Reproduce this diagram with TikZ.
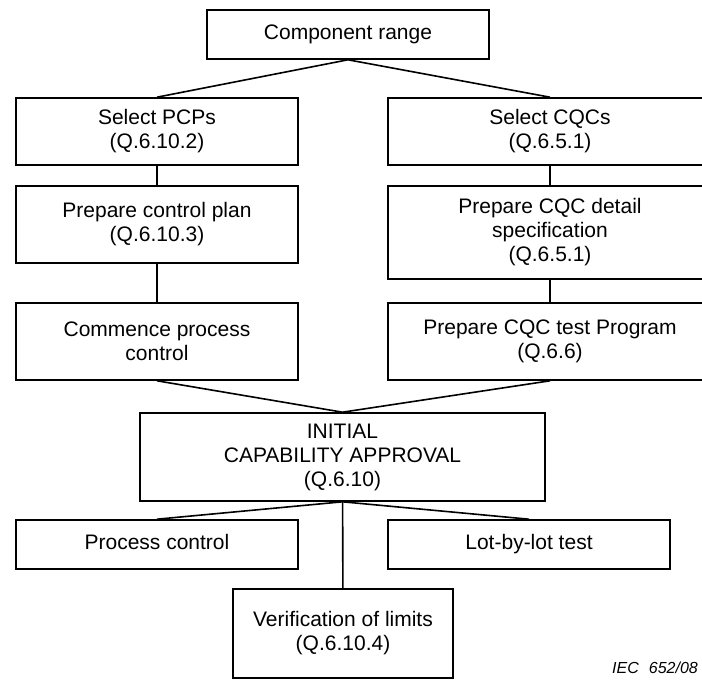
\documentclass[tikz,border=0pt]{standalone}
\usepackage{fontspec}
\setmainfont{Liberation Sans}

\begin{document}
\begin{tikzpicture}[x=1pt,y=-1pt,line width=1.6pt,
    every node/.style={font={\fontsize{21}{24}\selectfont}},
    box/.style={draw,rectangle,align=center,inner sep=0pt,minimum width=282pt},
    wide/.style={box,minimum width=324pt},
    single/.style={box,minimum height=49pt,text height=15pt,text depth=4.5pt}]
    \useasboundingbox (0,0) rectangle (702,684);
    \clip (0,0) rectangle (702,684);
    \node[single] (range) at (348,34.5) {Component range};
    \node[box,minimum height=67pt] (pcp) at (157,131.5) {Select PCPs\\(Q.6.10.2)};
    \node[wide,minimum height=67pt] (cqc) at (550,131.5) {Select CQCs\\(Q.6.5.1)};
    \node[box,minimum height=77pt] (plan) at (157,224.5) {Prepare control plan\\(Q.6.10.3)};
    \node[wide,minimum height=93pt] (spec) at (550,232.5) {Prepare CQC detail\\specification\\(Q.6.5.1)};
    \node[box,minimum height=77pt] (commence) at (157,341.5) {Commence process\\control};
    \node[wide,minimum height=77pt] (testprog) at (550,341.5) {Prepare CQC test Program\\(Q.6.6)};
    \node[box,minimum width=405pt,minimum height=88pt] (ica) at (342.5,457) {INITIAL\\CAPABILITY APPROVAL\\(Q.6.10)};
    \node[single] (proc) at (157,544.5) {Process control};
    \node[single] (lot) at (529,544.5) {Lot-by-lot test};
    \node[box,minimum width=220pt,minimum height=89pt] (verif) at (343,633.5) {Verification of limits\\(Q.6.10.4)};
    \node[font={\fontsize{16}{19}\selectfont\itshape}] (iec) at (655,668) {IEC\hspace{10pt}652/08};
    \draw (pcp.north) -- (range.south) -- (cqc.north);
    \draw (pcp) -- (plan) -- (commence);
    \draw (cqc) -- (spec) -- (testprog);
    \draw (commence.south) -- (ica.north) -- (testprog.south);
    \draw (proc.north) -- (ica.south) -- (lot.north);
    \draw (ica) -- (verif);
  \end{tikzpicture}
\end{document}
